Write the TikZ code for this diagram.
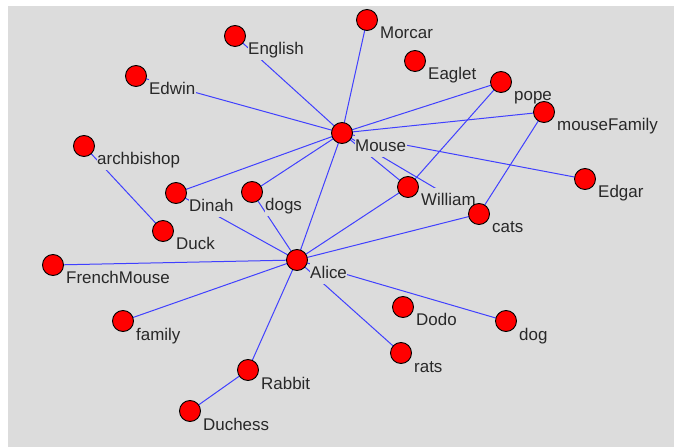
\documentclass[tikz,border=0pt]{standalone}
\usepackage{fontspec}
\setmainfont{Liberation Sans}
\definecolor{canvas}{RGB}{220,220,220}
\definecolor{edgeblue}{RGB}{64,64,255}
\definecolor{labelink}{RGB}{40,40,40}
\definecolor{vertexred}{RGB}{255,0,0}
\pgfdeclarelayer{bg}
\pgfdeclarelayer{edges}
\pgfdeclarelayer{labels}
\pgfsetlayers{bg,edges,labels,main}
\tikzset{
  vertex/.style={circle, fill=vertexred, draw=black, line width=0.9bp,
    minimum size=21bp, inner sep=0pt},
  vlabel/.style={anchor=base west, fill=canvas, text=labelink,
    inner xsep=0.5bp, inner ysep=0pt, text height=17.5bp, text depth=5bp,
    font=\fontsize{17}{20}\selectfont},
  link/.style={draw=edgeblue, line width=1bp}
}
% place a vertex with its label below-right of it
\newcommand\graphvertex[3]{%
  \node[vertex] (#1) at (#2,#3) {};
  \begin{pgfonlayer}{labels}
    \node[vlabel] (#1-label) at ({#2+12.5},{#3+19}) {#1};
  \end{pgfonlayer}}
\begin{document}
\begin{tikzpicture}[x=1bp, y=-1bp]
  \useasboundingbox (0,0) rectangle (674,447);
  \begin{pgfonlayer}{bg}
    \fill[canvas] (8,6) rectangle (674,447);
  \end{pgfonlayer}

  \graphvertex{Mouse}{342}{133}
  \graphvertex{Alice}{297}{260}
  \graphvertex{English}{235}{36}
  \graphvertex{Edwin}{136}{76}
  \graphvertex{archbishop}{84}{146}
  \graphvertex{Dinah}{176}{193}
  \graphvertex{dogs}{252}{192}
  \graphvertex{Duck}{163}{231}
  \graphvertex{FrenchMouse}{53}{265}
  \graphvertex{family}{123}{321}
  \graphvertex{Rabbit}{248}{370}
  \graphvertex{Duchess}{190}{411}
  \graphvertex{Morcar}{367}{20}
  \graphvertex{Eaglet}{415}{61}
  \graphvertex{pope}{501}{82}
  \graphvertex{mouseFamily}{544}{112}
  \graphvertex{Edgar}{585}{179}
  \graphvertex{William}{408}{187}
  \graphvertex{cats}{479}{214}
  \graphvertex{Dodo}{403}{307}
  \graphvertex{dog}{506}{321}
  \graphvertex{rats}{401}{353}

  \begin{pgfonlayer}{edges}
    \foreach \a/\b in {Mouse/English, Mouse/Edwin, Mouse/Morcar, Mouse/pope,
        Mouse/mouseFamily, Mouse/Edgar, Mouse/Dinah, Mouse/dogs, Mouse/Alice,
        Mouse/William, Mouse/cats,
        Alice/Dinah, Alice/dogs, Alice/William, Alice/cats, Alice/FrenchMouse,
        Alice/family, Alice/Rabbit, Alice/rats, Alice/dog,
        pope/William, mouseFamily/cats, archbishop/Duck, Rabbit/Duchess}
      \draw[link] (\a.center) -- (\b.center);
  \end{pgfonlayer}
\end{tikzpicture}
\end{document}
